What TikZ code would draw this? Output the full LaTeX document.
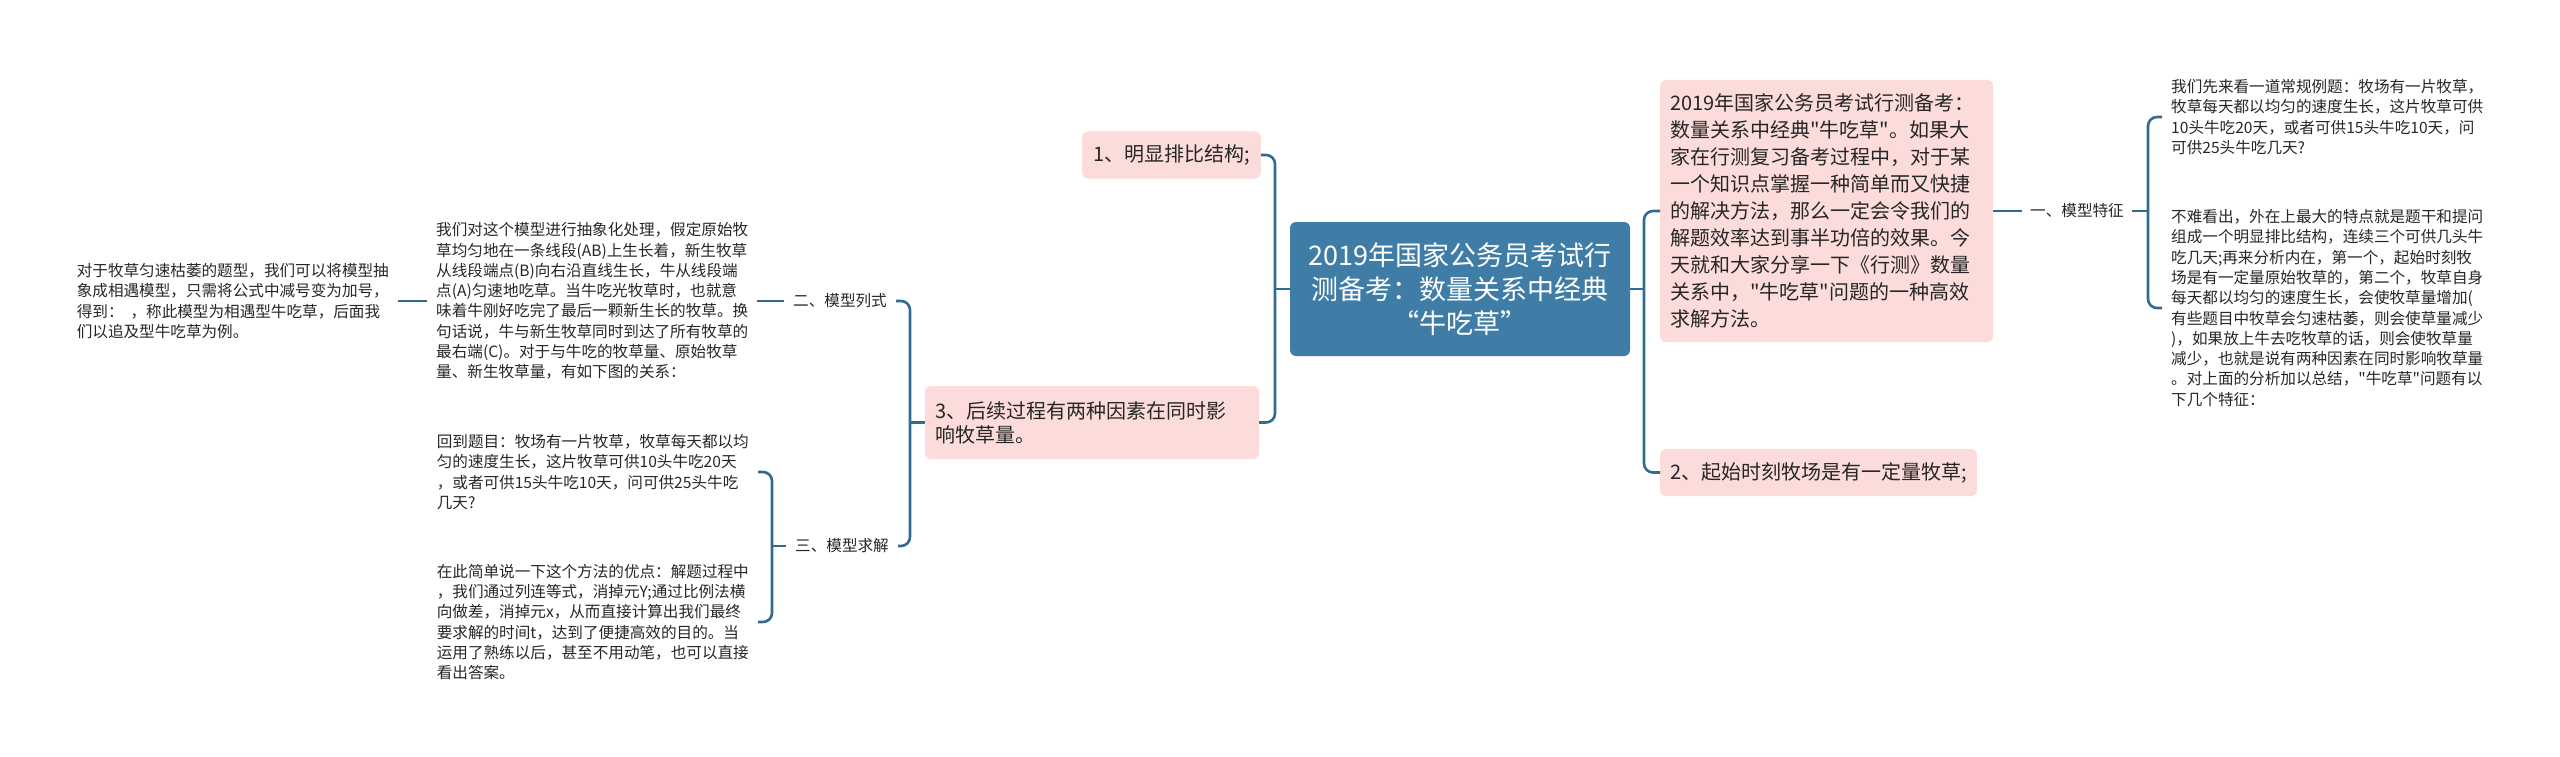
\documentclass[tikz,border=0pt]{standalone}
\usepackage{fontspec}
\newfontfamily\cjkfam{Noto Sans CJK SC}
\definecolor{linec}{RGB}{48,108,145}
\definecolor{rootc}{RGB}{63,125,166}
\definecolor{pinkc}{RGB}{251,220,219}
\definecolor{txtc}{RGB}{38,38,38}
\tikzset{
  conn/.style={draw=linec, line width=2.6pt, rounded corners=9pt},
  straight/.style={draw=linec, line width=2.6pt},
  pinkbox/.style={fill=pinkc, rounded corners=6pt, text=txtc, align=left, inner xsep=10pt, inner ysep=0pt},
  rootbox/.style={fill=rootc, rounded corners=6pt, text=white, align=center, inner sep=0pt},
  plain/.style={text=txtc, align=left, inner xsep=9pt, inner ysep=2pt, font=\cjkfam\fontsize{15.6}{20.3}\selectfont},
}
\begin{document}
\cjkfam
\begin{tikzpicture}[x=1pt,y=-1pt]
\useasboundingbox (0,0) rectangle (2560,757);
% root
\node[rootbox, minimum width=340pt, minimum height=134pt, font=\cjkfam\fontsize{27}{34}\selectfont] (root) at (1460,289)
  {2019年国家公务员考试行\\测备考：数量关系中经典\\“牛吃草”};
% right side
\node[pinkbox, anchor=west, text width=313pt, minimum height=262pt, font=\cjkfam\fontsize{20}{27}\selectfont] (intro) at (1660,211)
  {2019年国家公务员考试行测备考：\\数量关系中经典"牛吃草"。如果大\\家在行测复习备考过程中，对于某\\一个知识点掌握一种简单而又快捷\\的解决方法，那么一定会令我们的\\解题效率达到事半功倍的效果。今\\天就和大家分享一下《行测》数量\\关系中，"牛吃草"问题的一种高效\\求解方法。};
\node[pinkbox, anchor=west, minimum height=47pt, font=\cjkfam\fontsize{20}{24}\selectfont] (n2) at (1660,472.5)
  {2、起始时刻牧场是有一定量牧草;};
\node[plain, anchor=west, inner xsep=8pt] (lab1) at (2022,211) {一、模型特征};
\node[plain, anchor=west] (r1) at (2162,117)
  {我们先来看一道常规例题：牧场有一片牧草，\\牧草每天都以均匀的速度生长，这片牧草可供\\10头牛吃20天，或者可供15头牛吃10天，问\\可供25头牛吃几天?};
\node[plain, anchor=west] (r2) at (2162,308)
  {不难看出，外在上最大的特点就是题干和提问\\组成一个明显排比结构，连续三个可供几头牛\\吃几天;再来分析内在，第一个，起始时刻牧\\场是有一定量原始牧草的，第二个，牧草自身\\每天都以均匀的速度生长，会使牧草量增加(\\有些题目中牧草会匀速枯萎，则会使草量减少\\)，如果放上牛去吃牧草的话，则会使牧草量\\减少，也就是说有两种因素在同时影响牧草量\\。对上面的分析加以总结，"牛吃草"问题有以\\下几个特征：};
% left side
\node[pinkbox, anchor=east, inner xsep=11pt, minimum height=47pt, font=\cjkfam\fontsize{20}{24}\selectfont] (n1) at (1261,155)
  {1、明显排比结构;};
\node[pinkbox, text width=314pt, minimum height=73pt, font=\cjkfam\fontsize{20}{24}\selectfont] (n3) at (1092,422.5)
  {3、后续过程有两种因素在同时影\\响牧草量。};
\node[plain, anchor=west] (lab2) at (784,301) {二、模型列式};
\node[plain, anchor=west] (lab3) at (786,546) {三、模型求解};
\node[plain, anchor=west] (ta) at (427,301)
  {我们对这个模型进行抽象化处理，假定原始牧\\草均匀地在一条线段(AB)上生长着，新生牧草\\从线段端点(B)向右沿直线生长，牛从线段端\\点(A)匀速地吃草。当牛吃光牧草时，也就意\\味着牛刚好吃完了最后一颗新生长的牧草。换\\句话说，牛与新生牧草同时到达了所有牧草的\\最右端(C)。对于与牛吃的牧草量、原始牧草\\量、新生牧草量，有如下图的关系：};
\node[plain, anchor=east] (tb) at (398,301)
  {对于牧草匀速枯萎的题型，我们可以将模型抽\\象成相遇模型，只需将公式中减号变为加号，\\得到：\ \ ，称此模型为相遇型牛吃草，后面我\\们以追及型牛吃草为例。};
\node[plain, anchor=east] (tc) at (758,472)
  {回到题目：牧场有一片牧草，牧草每天都以均\\匀的速度生长，这片牧草可供10头牛吃20天\\，或者可供15头牛吃10天，问可供25头牛吃\\几天?};
\node[plain, anchor=east] (td) at (758,622)
  {在此简单说一下这个方法的优点：解题过程中\\，我们通过列连等式，消掉元Y;通过比例法横\\向做差，消掉元x，从而直接计算出我们最终\\要求解的时间t，达到了便捷高效的目的。当\\运用了熟练以后，甚至不用动笔，也可以直接\\看出答案。};
% connectors
\coordinate (rt) at (1644,289);
\draw[straight] (root.east) -- (rt);
\draw[conn] (rt) |- (intro.west);
\draw[conn] (rt) |- (n2.west);
\draw[straight] (intro.east) -- (lab1.west);
\coordinate (rt2) at (2148,211);
\draw[straight] (lab1.east) -- (rt2);
\draw[conn] (rt2) |- (r1.west);
\draw[conn] (rt2) |- (r2.west);
\coordinate (lt) at (1275,289);
\draw[straight] (root.west) -- (lt);
\draw[conn] (lt) |- (n1.east);
\draw[conn] (lt) |- (n3.east);
\coordinate (mt) at (910,422.5);
\draw[straight] (n3.west) -- (mt);
\draw[conn] (mt) |- (lab2.east);
\draw[conn] (mt) |- (lab3.east);
\draw[straight] (lab2.west) -- (ta.east);
\draw[straight] (ta.west) -- (tb.east);
\coordinate (mt2) at (772,546);
\draw[straight] (lab3.west) -- (mt2);
\draw[conn] (mt2) |- (tc.east);
\draw[conn] (mt2) |- (td.east);
\end{tikzpicture}
\end{document}
